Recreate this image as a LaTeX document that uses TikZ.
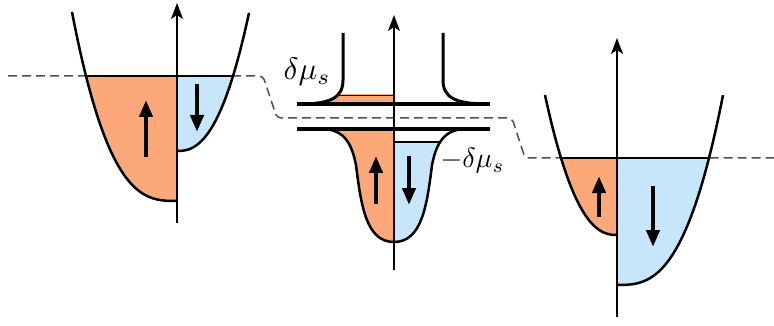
\documentclass[tikz,border=0pt]{standalone}
\usetikzlibrary{arrows.meta}
\definecolor{orng}{RGB}{252,168,120}
\definecolor{blu}{RGB}{200,230,250}
\definecolor{dashgray}{RGB}{80,80,80}
\begin{document}
\begin{tikzpicture}[x=1pt,y=-1pt,
  band/.style={line width=2.5pt,line join=round},
  axis/.style={line width=1.5pt,-{Stealth[length=16pt,width=12pt,inset=4pt]}},
  spin/.style={line width=4.5pt,-{Triangle[length=17pt,width=13pt]}},
  fermi/.style={line width=1.5pt,dashgray,dash pattern=on 9pt off 5pt,rounded corners=4pt},
  lvl/.style={line width=1.2pt},
  lab/.style={inner sep=0pt,scale=3.1}]
\useasboundingbox (0,0) rectangle (774,326);

% Fermi level (dashed)
\draw[fermi] (8,76) -- (263,76) -- (277,118) -- (512,118) -- (525,158) -- (774,158);

% ---------------- left panel ----------------
\begin{scope}
  \clip (0,76) rectangle (177,326);
  \fill[orng] plot[domain=0.01:105,samples=80] ({177-\x},{201-125*pow(\x/91,2.89)}) -- (177,0) -- cycle;
\end{scope}
\begin{scope}
  \clip (177,76) rectangle (300,326);
  \fill[blu] plot[domain=0.01:72,samples=80] ({177+\x},{151-75*pow(\x/56,2.43)}) -- (177,0) -- cycle;
\end{scope}
\draw[lvl] (86,76) -- (233,76);
\draw[band] plot[domain=0.01:105,samples=80] ({177-\x},{201-125*pow(\x/91,2.89)});
\draw[band] plot[domain=0.01:72,samples=80] ({177+\x},{151-75*pow(\x/56,2.43)});
\coordinate (la0) at (177,223);
\coordinate (la1) at (177,3);
\draw[axis] (la0) -- (la1);
\coordinate (lu0) at (146,157);
\coordinate (lu1) at (146,100);
\draw[spin] (lu0) -- (lu1);
\coordinate (ld0) at (197,84);
\coordinate (ld1) at (197,132);
\draw[spin] (ld0) -- (ld1);

% ---------------- middle panel ----------------
% upper band fill
\begin{scope}
  \clip (290,95) rectangle (394,104);
  \fill[orng] (343,33) -- (343,80) .. controls (343,98) and (330,104) .. (300,104) -- (394,104) -- (394,33) -- cycle;
  \clip (343,33) -- (343,80) .. controls (343,98) and (330,104) .. (300,104) -- (394,104) -- (394,33) -- cycle;
  \draw[lvl] (290,95.5) -- (394,95.5);
\end{scope}
% lower band fill
\def\lowband{(297,129) -- (322,129) .. controls (345,129) and (352,145) .. (356,165) .. controls (361,205) and (366,242) .. (394,242) .. controls (422,242) and (427,205) .. (432,165) .. controls (436,145) and (443,129) .. (466,129) -- (490,129)}
\begin{scope}
  \clip (290,129) rectangle (394,260);
  \fill[orng] \lowband -- cycle;
\end{scope}
\begin{scope}
  \clip (394,142) rectangle (500,260);
  \fill[blu] \lowband -- cycle;
\end{scope}
\begin{scope}
  \clip \lowband -- cycle;
  \draw[lvl] (394,142) -- (500,142);
\end{scope}
\draw[band] \lowband;
\draw[line width=4pt] (297,104) -- (490,104);
\draw[line width=3.5pt] (297,129) -- (490,129);
\draw[band,line width=3pt] (343,33) -- (343,80) .. controls (343,98) and (330,104) .. (300,104);
\draw[band,line width=3pt] (443,33) -- (443,80) .. controls (443,98) and (456,104) .. (488,104);
\coordinate (ma0) at (394,270);
\coordinate (ma1) at (394,15);
\draw[axis] (ma0) -- (ma1);
\coordinate (mu0) at (376,204);
\coordinate (mu1) at (376,156);
\draw[spin] (mu0) -- (mu1);
\coordinate (md0) at (409,156);
\coordinate (md1) at (409,205);
\draw[spin] (md0) -- (md1);
\node[lab,anchor=base west] (lab1) at (283,80) {$\delta\mu_s$};
\node[lab,anchor=base west,scale=0.9] (lab2) at (440,168) {$-\delta\mu_s$};

% ---------------- right panel ----------------
\begin{scope}
  \clip (500,158) rectangle (617,326);
  \fill[orng] plot[domain=0.01:72,samples=80] ({617-\x},{235-77*pow(\x/56,2.38)}) -- (617,0) -- cycle;
\end{scope}
\begin{scope}
  \clip (617,158) rectangle (774,326);
  \fill[blu] plot[domain=0.01:106,samples=80] ({617+\x},{285-127*pow(\x/92,2.84)}) -- (617,0) -- cycle;
\end{scope}
\draw[lvl] (561,158) -- (709,158);
\draw[band] plot[domain=0.01:72,samples=80] ({617-\x},{235-77*pow(\x/56,2.38)});
\draw[band] plot[domain=0.01:106,samples=80] ({617+\x},{285-127*pow(\x/92,2.84)});
\coordinate (ra0) at (617,317);
\coordinate (ra1) at (617,38);
\draw[axis] (ra0) -- (ra1);
\coordinate (ru0) at (599,217);
\coordinate (ru1) at (599,176);
\draw[spin] (ru0) -- (ru1);
\coordinate (rd0) at (653,186);
\coordinate (rd1) at (653,247);
\draw[spin] (rd0) -- (rd1);
\end{tikzpicture}
\end{document}
